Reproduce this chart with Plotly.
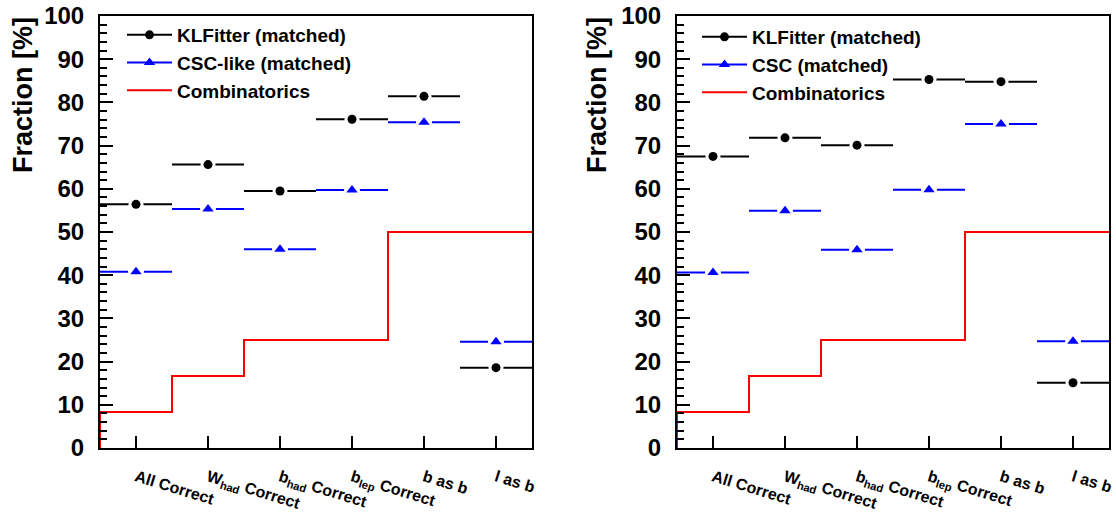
import plotly.graph_objects as go

# Bin definitions (six reconstruction categories, unit-width bins)
categories = [
    "All Correct",
    "W<sub>had</sub> Correct",
    "b<sub>had</sub> Correct",
    "b<sub>lep</sub> Correct",
    "b as b",
    "l as b",
]
bin_edges = [0, 1, 2, 3, 4, 5, 6]

# Fractions in percent
klfitter_left = [56.4, 65.6, 59.5, 76.1, 81.4, 18.6]
csc_like_left = [40.8, 55.3, 46.0, 59.7, 75.4, 24.6]
klfitter_right = [67.5, 71.8, 70.1, 85.3, 84.8, 15.1]
csc_right = [40.6, 54.9, 45.9, 59.8, 75.0, 24.7]
combinatorics = [8.33, 16.67, 25.0, 25.0, 50.0, 50.0]

y_ticks = [0, 10, 20, 30, 40, 50, 60, 70, 80, 90, 100]

centers = [(a + b) / 2 for a, b in zip(bin_edges[:-1], bin_edges[1:])]
half_widths = [(b - a) / 2 for a, b in zip(bin_edges[:-1], bin_edges[1:])]

FONT = "Liberation Sans, Arial, Helvetica, sans-serif"
BLUE = "#0000ff"
RED = "#ff0000"

fig = go.Figure()


def add_points(values, color, symbol, size, name, xa, ya, legend, rank):
    # horizontal bin-width bar plus a white halo that opens a gap round the marker
    fig.add_trace(go.Scatter(
        x=centers, y=values, mode="markers", xaxis=xa, yaxis=ya,
        marker=dict(symbol="circle", size=size + 6, color="white"),
        error_x=dict(type="data", array=half_widths, symmetric=True,
                     width=0, thickness=2, color=color),
        showlegend=False, hoverinfo="skip",
    ))
    fig.add_trace(go.Scatter(
        x=centers, y=values, mode="markers", xaxis=xa, yaxis=ya,
        marker=dict(symbol=symbol, size=size, color=color),
        showlegend=False, name=name,
    ))
    # legend entry
    fig.add_trace(go.Scatter(
        x=[None], y=[None], mode="lines+markers", xaxis=xa, yaxis=ya,
        marker=dict(symbol=symbol, size=size, color=color),
        line=dict(color=color, width=2), name=name, legend=legend,
        legendrank=rank,
    ))


def add_combinatorics(xa, ya, legend):
    xs = [bin_edges[0]] + bin_edges[:-1] + [bin_edges[-1]]
    ys = [0] + combinatorics + [combinatorics[-1]]
    fig.add_trace(go.Scatter(
        x=xs, y=ys, mode="lines", line=dict(color=RED, width=2, shape="hv"),
        xaxis=xa, yaxis=ya, name="Combinatorics", legend=legend, legendrank=3,
    ))


# left panel
add_combinatorics("x", "y", "legend")
add_points(klfitter_left, "black", "circle", 9, "KLFitter (matched)", "x", "y", "legend", 1)
add_points(csc_like_left, BLUE, "triangle-up", 10, "CSC-like (matched)", "x", "y", "legend", 2)

# right panel
add_combinatorics("x2", "y2", "legend2")
add_points(klfitter_right, "black", "circle", 9, "KLFitter (matched)", "x2", "y2", "legend2", 1)
add_points(csc_right, BLUE, "triangle-up", 10, "CSC (matched)", "x2", "y2", "legend2", 2)

W, H = 1116, 512
y_dom = [1 - 448 / H, 1 - 16 / H]

xaxis_common = dict(
    range=[bin_edges[0], bin_edges[-1]], tickvals=centers, ticktext=categories,
    tickangle=17, ticks="inside", ticklen=12, tickwidth=2, tickcolor="black",
    showline=True, linewidth=2, linecolor="black", mirror=True,
    showgrid=False, zeroline=False, fixedrange=True, automargin=False,
    tickfont=dict(family=FONT, size=16, color="black", weight="bold"),
    ticklabelstandoff=12,
)
yaxis_common = dict(
    range=[0, 100], tickvals=y_ticks, ticks="inside", ticklen=13, tickwidth=2,
    tickcolor="black", showline=True, linewidth=2, linecolor="black", mirror=True,
    showgrid=False, zeroline=False, fixedrange=True, automargin=False,
    minor=dict(dtick=2, ticks="inside", ticklen=7, tickwidth=2, tickcolor="black"),
    tickfont=dict(family=FONT, size=24, color="black", weight="bold"),
    ticklabelstandoff=9,
)

legend_common = dict(
    bgcolor="rgba(0,0,0,0)", borderwidth=0, yanchor="top", xanchor="left",
    font=dict(family=FONT, size=19, color="black", weight="bold"),
    itemwidth=45, traceorder="normal",
)

fig.update_layout(
    width=W, height=H, margin=dict(l=0, r=0, t=0, b=0, autoexpand=False),
    paper_bgcolor="white", plot_bgcolor="white",
    xaxis=dict(domain=[100 / W, 532 / W], anchor="y", **xaxis_common),
    yaxis=dict(domain=y_dom, anchor="x", **yaxis_common),
    xaxis2=dict(domain=[677 / W, 1109 / W], anchor="y2", **xaxis_common),
    yaxis2=dict(domain=y_dom, anchor="x2", **yaxis_common),
    legend=dict(x=122 / W, y=1 - 16 / H, **legend_common),
    legend2=dict(x=697 / W, y=1 - 18 / H, **legend_common),
    showlegend=True,
)

for xc in [23 / W, 597 / W]:
    fig.add_annotation(
        text="Fraction [%]", xref="paper", yref="paper", x=xc, y=1 - 15 / H,
        xanchor="center", yanchor="top", textangle=-90, showarrow=False,
        font=dict(family=FONT, size=27, color="black", weight="bold"),
    )

fig.write_html("out.html")
